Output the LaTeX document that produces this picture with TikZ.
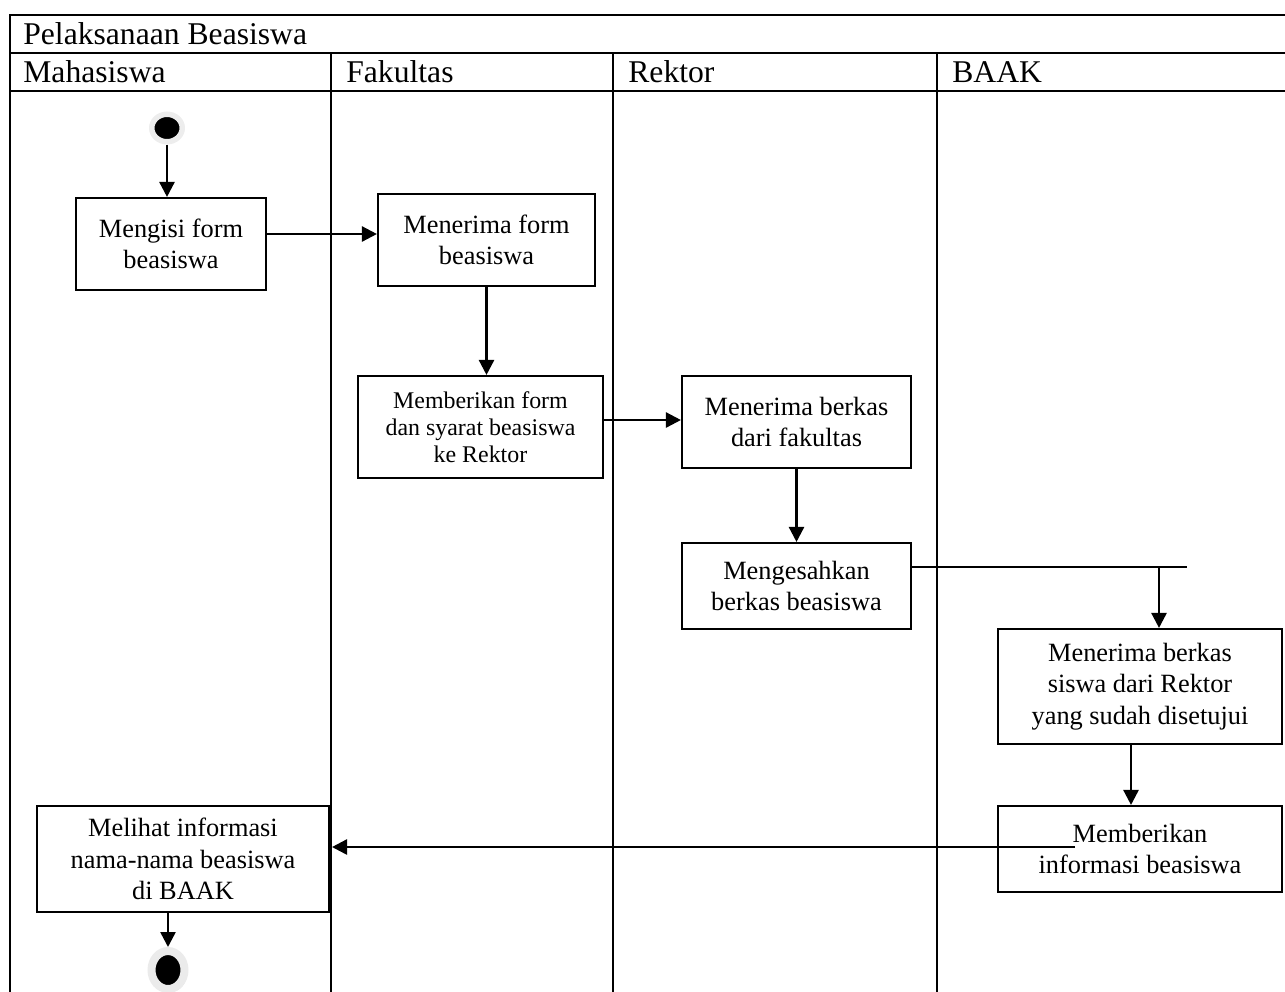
\documentclass[tikz,border=0pt]{standalone}
\usepackage{fontspec}
\setmainfont{Liberation Serif}
\usetikzlibrary{arrows.meta,shapes.geometric,shadows}
\newcommand\lanefont{\fontsize{18}{21}\selectfont}
\newcommand\boxfont{\fontsize{15}{17.9}\selectfont}
\newcommand\smallboxfont{\fontsize{13.6}{15.4}\selectfont}

\begin{document}
\begin{tikzpicture}[x=1cm,y=1cm,
  frameline/.style={line width=1.6pt},
  lanelabel/.style={anchor=west,inner sep=0pt,font=\lanefont},
  actbox/.style={draw,line width=1.2pt,align=center,inner sep=2pt,font=\boxfont},
  flow/.style={line width=1.4pt,-{Triangle[length=0.3cm,width=0.3cm]}},
  plainflow/.style={line width=1.4pt}]
\useasboundingbox (0,0) rectangle (25.70,-19.82);
% swimlane frame
\draw[frameline] (0.20,-20.00) -- (0.20,-0.30) -- (25.80,-0.30);
\draw[frameline] (0.20,-1.06) -- (25.80,-1.06);
\draw[frameline] (0.20,-1.82) -- (25.80,-1.82);
\draw[frameline] (6.62,-1.06) -- (6.62,-20.00);
\draw[frameline] (12.26,-1.06) -- (12.26,-20.00);
\draw[frameline] (18.74,-1.06) -- (18.74,-20.00);
\node[lanelabel] (title) at (0.46,-0.68) {Pelaksanaan Beasiswa};
\node[lanelabel] (laneMhs) at (0.46,-1.44) {Mahasiswa};
\node[lanelabel] (laneFak) at (6.92,-1.44) {Fakultas};
\node[lanelabel] (laneRek) at (12.56,-1.44) {Rektor};
\node[lanelabel] (laneBaak) at (19.04,-1.44) {BAAK};
% start / end
\node[ellipse,fill=black,draw=black!7,line width=0.11cm,inner sep=0pt,
  minimum width=0.61cm,minimum height=0.55cm] (start) at (3.34,-2.56) {};
\node[ellipse,fill=black,draw=black!8,line width=0.16cm,inner sep=0pt,
  minimum width=0.66cm,minimum height=0.76cm,
  drop shadow={shadow xshift=0.05cm,shadow yshift=-0.06cm,fill=black!35}] (stop) at (3.36,-19.40) {};
% activities
\node[actbox,minimum width=3.80cm,minimum height=1.84cm] (isi) at (3.42,-4.88) {Mengisi form\\beasiswa};
\node[actbox,minimum width=4.34cm,minimum height=1.84cm] (terimaForm) at (9.73,-4.80) {Menerima form\\beasiswa};
\node[actbox,minimum width=4.90cm,minimum height=2.04cm,font=\smallboxfont] (beriForm) at (9.61,-8.54) {Memberikan form\\dan syarat beasiswa\\ke Rektor};
\node[actbox,minimum width=4.58cm,minimum height=1.84cm] (terimaBerkas) at (15.93,-8.44) {Menerima berkas\\dari fakultas};
\node[actbox,minimum width=4.58cm,minimum height=1.72cm] (sahkan) at (15.93,-11.72) {Mengesahkan\\berkas beasiswa};
\node[actbox,minimum width=5.68cm,minimum height=2.30cm] (terimaSiswa) at (22.80,-13.73) {Menerima berkas\\siswa dari Rektor\\yang sudah disetujui};
\node[actbox,minimum width=5.68cm,minimum height=1.72cm] (beriInfo) at (22.80,-16.98) {Memberikan\\informasi beasiswa};
\node[actbox,minimum width=5.84cm,minimum height=2.12cm] (lihat) at (3.66,-17.18) {Melihat informasi\\nama-nama beasiswa\\di BAAK};
% connectors
\coordinate (fork) at (23.18,-11.34);
\coordinate (forkEnd) at (23.74,-11.34);
\coordinate (infoStart) at (21.50,-16.94);
\coordinate (infoEnd) at (6.64,-16.94);
\draw[flow] (start) -- (start |- isi.north);
\draw[flow] ([yshift=0.2cm]isi.east) -- ([yshift=0.2cm]isi.east -| terimaForm.west);
\draw[flow] (terimaForm.south) -- (terimaForm.south |- beriForm.north);
\draw[flow] ([yshift=0.14cm]beriForm.east) -- ([yshift=0.14cm]beriForm.east -| terimaBerkas.west);
\draw[flow] (terimaBerkas.south) -- (terimaBerkas.south |- sahkan.north);
\draw[plainflow] (sahkan.east |- fork) -- (forkEnd);
\draw[flow] (fork) -- (fork |- terimaSiswa.north);
\draw[flow] ([xshift=-0.18cm]terimaSiswa.south) -- ([xshift=-0.18cm]terimaSiswa.south |- beriInfo.north);
\draw[flow] (infoStart) -- (infoEnd);
\draw[flow] ([xshift=-0.3cm]lihat.south) -- ([xshift=-0.3cm]lihat.south |- stop.north);
\end{tikzpicture}
\end{document}
